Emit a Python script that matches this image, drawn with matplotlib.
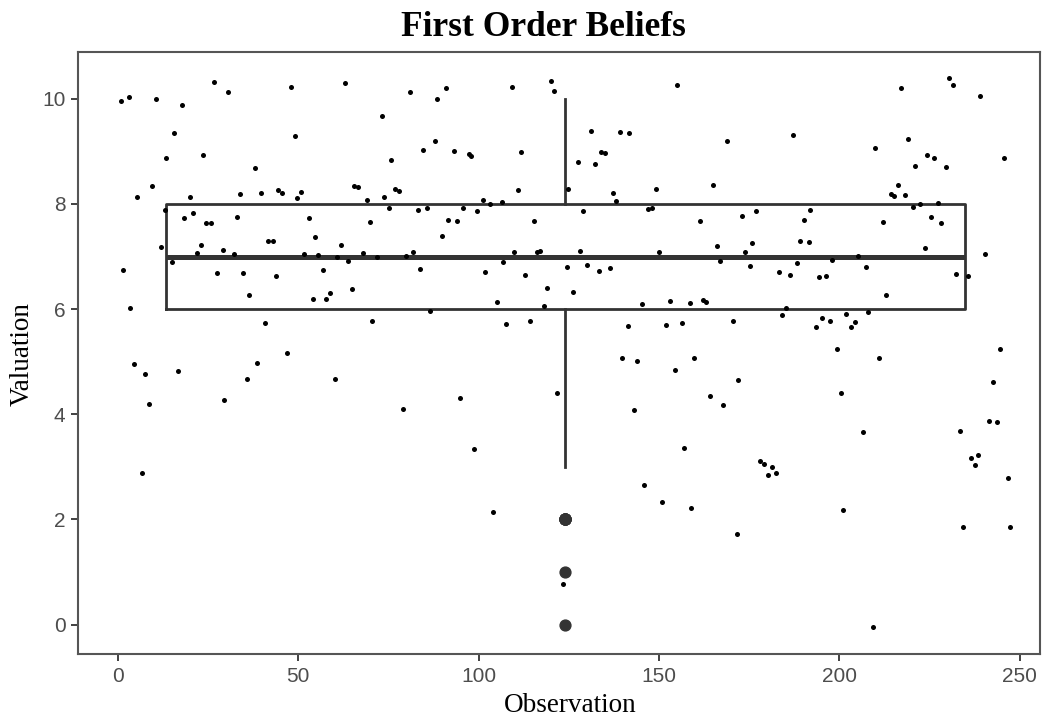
import numpy as np
import matplotlib
matplotlib.use("Agg")
import matplotlib.pyplot as plt

# ---- data (jittered points) ----
observation = [
    1.0, 3.1, 10.7, 17.8, 26.8, 30.6, 15.6, 13.4, 23.6, 9.4, 5.4, 20.1, 13.0, 18.5, 21.0, 24.6,
    25.8, 12.1, 23.1, 22.0, 29.2, 15.1, 27.6, 1.5, 3.3, 4.6, 7.5, 16.6, 8.7, 29.5, 6.6,
    47.9, 62.9, 49.1, 38.1, 33.8, 39.7, 44.4, 45.5, 50.7, 49.6, 33.1, 52.9, 41.7, 43.1, 54.6,
    62.0, 32.2, 51.7, 55.6, 60.9, 63.7, 34.8, 43.9, 56.8, 36.5, 54.2, 57.7, 58.8, 64.9, 40.7,
    46.9, 38.5, 35.8, 60.2,
    80.9, 91.1, 88.6, 73.2, 88.0, 84.7, 93.1, 97.3, 97.8, 75.7, 65.6, 66.5, 76.8, 77.9, 69.0,
    73.8, 75.1, 83.1, 85.7, 95.7, 99.6, 69.8, 91.6, 94.0, 90.0, 68.0, 71.9, 79.8, 81.9, 83.9,
    86.5, 70.6, 95.0, 79.0, 98.7,
    109.4, 120.2, 120.8, 131.3, 111.8, 127.5, 132.2, 133.9, 135.0, 124.7, 110.8, 101.3, 103.2,
    106.4, 115.4, 129.0, 109.7, 116.3, 116.9, 128.0, 101.7, 106.9, 112.8, 124.4, 130.0, 133.3,
    119.1, 126.3, 105.2, 118.1, 107.6, 114.3, 121.7, 103.9, 123.4,
    155.0, 139.2, 141.8, 168.8, 137.2, 138.0, 149.3, 165.1, 147.0, 148.1, 161.4, 150.1, 166.2,
    166.9, 136.4, 145.4, 153.1, 158.5, 162.2, 163.1, 141.4, 151.9, 156.5, 139.8, 143.8, 159.7,
    154.4, 164.2, 167.8, 143.1, 156.9, 145.8, 150.9, 159.0,
    187.1, 173.0, 177.0, 191.9, 190.1, 175.8, 189.0, 191.5, 173.9, 175.2, 183.2, 186.4, 188.3,
    194.3, 196.2, 197.9, 185.1, 184.0, 170.5, 195.1, 197.4, 201.9, 193.4, 203.1, 204.3, 199.3,
    171.9, 200.4, 178.1, 179.0, 181.2, 180.2, 182.4, 200.9, 171.5,
    217.2, 230.5, 231.6, 239.0, 209.9, 219.1, 224.4, 226.3, 221.0, 229.6, 216.3, 214.3, 215.2,
    218.3, 220.4, 222.3, 227.4, 212.1, 225.5, 228.1, 223.7, 205.1, 207.4, 232.4, 235.6, 213.0,
    207.9, 211.0, 206.6, 233.3, 236.5, 238.3, 237.7, 234.2, 209.4,
    245.6, 240.3, 244.4, 242.7, 241.4, 243.8, 246.7, 247.3,
]
valuation = [
    9.96, 10.03, 10.00, 9.89, 10.32, 10.13, 9.35, 8.87, 8.94, 8.35, 8.13, 8.13, 7.89, 7.73, 7.82, 7.63,
    7.63, 7.18, 7.21, 7.07, 7.12, 6.90, 6.69, 6.75, 6.03, 4.95, 4.76, 4.82, 4.20, 4.27, 2.89,
    10.22, 10.30, 9.30, 8.69, 8.19, 8.20, 8.27, 8.20, 8.23, 8.12, 7.75, 7.73, 7.29, 7.29, 7.38,
    7.22, 7.05, 7.05, 7.02, 7.00, 6.91, 6.68, 6.63, 6.74, 6.27, 6.19, 6.19, 6.31, 6.39, 5.74,
    5.16, 4.98, 4.67, 4.67,
    10.12, 10.21, 9.99, 9.68, 9.19, 9.03, 9.00, 8.95, 8.91, 8.84, 8.34, 8.32, 8.28, 8.25, 8.07,
    8.13, 7.93, 7.89, 7.92, 7.92, 7.87, 7.66, 7.69, 7.68, 7.39, 7.06, 7.00, 7.01, 7.08, 6.76,
    5.97, 5.77, 4.30, 4.10, 3.34,
    10.22, 10.34, 10.15, 9.39, 8.98, 8.80, 8.76, 8.98, 8.96, 8.29, 8.27, 8.08, 7.99,
    8.03, 7.68, 7.87, 7.09, 7.09, 7.10, 7.11, 6.70, 6.89, 6.65, 6.81, 6.84, 6.72,
    6.40, 6.32, 6.14, 6.06, 5.72, 5.77, 4.40, 2.15, 0.78,
    10.27, 9.36, 9.34, 9.19, 8.21, 8.06, 8.29, 8.36, 7.91, 7.92, 7.67, 7.09, 7.20,
    6.92, 6.79, 6.10, 6.15, 6.11, 6.18, 6.14, 5.68, 5.70, 5.73, 5.07, 5.01, 5.07,
    4.84, 4.34, 4.18, 4.09, 3.35, 2.66, 2.34, 2.22,
    9.31, 7.77, 7.86, 7.89, 7.70, 7.26, 7.29, 7.28, 7.09, 6.82, 6.70, 6.65, 6.87,
    6.62, 6.63, 6.94, 6.02, 5.89, 5.78, 5.83, 5.78, 5.90, 5.66, 5.66, 5.76, 5.24,
    4.65, 4.40, 3.12, 3.06, 3.00, 2.85, 2.88, 2.17, 1.72,
    10.21, 10.39, 10.27, 10.06, 9.07, 9.24, 8.93, 8.88, 8.72, 8.71, 8.36, 8.18, 8.16,
    8.17, 7.94, 8.00, 8.01, 7.65, 7.76, 7.64, 7.16, 7.01, 6.81, 6.66, 6.63, 6.27,
    5.95, 5.07, 3.66, 3.68, 3.16, 3.22, 3.03, 1.86, -0.04,
    8.87, 7.05, 5.24, 4.62, 3.87, 3.85, 2.79, 1.86,
]
x_ticks = [0, 50, 100, 150, 200, 250]
y_ticks = [0, 2, 4, 6, 8, 10]
title = "First Order Beliefs"
x_label = "Observation"
y_label = "Valuation"

obs = np.array(observation)
val = np.array(valuation)
raw_values = np.round(val)          # underlying (un-jittered) integer ratings

fig = plt.figure(figsize=(10.42, 7.21), dpi=100)
ax = fig.add_axes([78 / 1042, 1 - 654 / 721, (1040 - 78) / 1042, (654 - 52) / 721])

dark = "#333333"
# box spans 90% of the observation range, centred in it (ggplot style)
n_first, n_last = 1, len(obs)
center = (n_first + n_last) / 2
width = 0.9 * (n_last - n_first)
ax.boxplot(raw_values, positions=[center], widths=width, whis=1.5,
           showcaps=False, patch_artist=False, manage_ticks=False,
           boxprops=dict(color=dark, linewidth=2.0),
           whiskerprops=dict(color=dark, linewidth=2.0),
           medianprops=dict(color=dark, linewidth=3.6),
           flierprops=dict(marker="o", markerfacecolor=dark, markeredgecolor=dark,
                           markersize=7.8))

ax.scatter(obs, val, s=13, color="black", linewidths=0, zorder=3)

ax.set_xlim(-11.0, 255.6)
ax.set_ylim(-0.56, 10.89)
ax.set_xticks(x_ticks)
ax.set_yticks(y_ticks)
ax.tick_params(axis="both", length=5, width=1.3, color="#333333",
               labelcolor="#4D4D4D", labelsize=15, pad=4)
for lab in ax.get_xticklabels() + ax.get_yticklabels():
    lab.set_family("Liberation Sans")
for sp in ax.spines.values():
    sp.set_color("#555555")
    sp.set_linewidth(1.5)

fig.text(543 / 1042, 1 - 28 / 721, title, ha="center", va="center",
         fontsize=25.5, fontweight="bold", family="Liberation Serif")
fig.text(570 / 1042, 1 - 706 / 721, x_label, ha="center", va="center",
         fontsize=19.5, family="Liberation Serif")
fig.text(22 / 1042, 1 - 354 / 721, y_label, ha="center", va="center",
         rotation=90, fontsize=19.5, family="Liberation Serif")

fig.savefig("out.png", dpi=100)
